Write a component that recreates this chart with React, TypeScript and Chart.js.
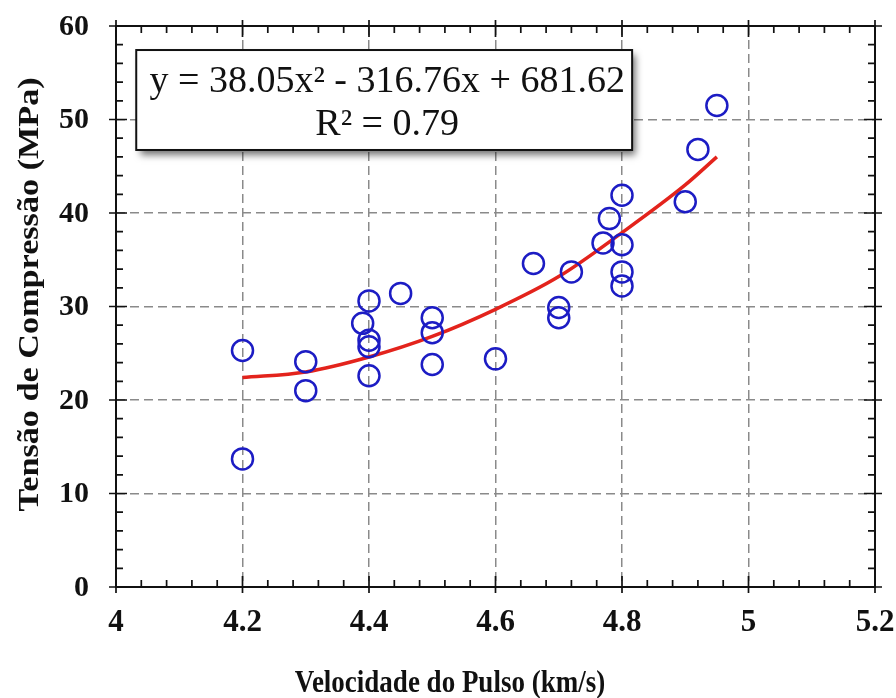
import React, { useEffect, useRef } from "react";
import { Chart, registerables } from "chart.js";

Chart.register(...registerables);

// Measured points: pulse velocity (km/s) vs compressive strength (MPa)
const velocity = [4.2, 4.2, 4.3, 4.3, 4.39, 4.4, 4.4, 4.4, 4.4, 4.45, 4.5, 4.5, 4.5, 4.6, 4.66, 4.7, 4.7, 4.72, 4.77, 4.78, 4.8, 4.8, 4.8, 4.8, 4.9, 4.92, 4.95];
const strength = [25.3, 13.7, 24.1, 21.0, 28.2, 30.6, 26.4, 25.7, 22.6, 31.4, 28.8, 27.2, 23.8, 24.4, 34.6, 29.9, 28.8, 33.7, 36.8, 39.4, 41.9, 36.6, 33.7, 32.2, 41.2, 46.8, 51.5];

// Trend curve
const trendX = [4.2, 4.3, 4.4, 4.5, 4.6, 4.7, 4.8, 4.9, 4.95];
const trendY = [22.4, 23.0, 24.6, 26.8, 29.7, 33.2, 37.9, 43.0, 46.0];

const xTicks = [4, 4.2, 4.4, 4.6, 4.8, 5, 5.2];
const yTicks = [0, 10, 20, 30, 40, 50, 60];
const xTickLabels = ["4", "4.2", "4.4", "4.6", "4.8", "5", "5.2"];
const yTickLabels = ["0", "10", "20", "30", "40", "50", "60"];

const equationLines = ["y = 38.05x\u00B2 - 316.76x + 681.62", "R\u00B2 = 0.79"];
const xTitle = "Velocidade do Pulso (km/s)";
const yTitle = "Tensão de Compressão (MPa)";

const SERIF = "'Liberation Serif', 'Times New Roman', serif";

const framePlugin = {
  id: "frameAndBox",
  afterDatasetsDraw(chart: any) {
    const { ctx, chartArea: a, scales, width } = chart;
    const xs = scales.x;
    const ys = scales.y;
    ctx.save();
    // frame
    ctx.strokeStyle = "#111";
    ctx.lineWidth = 2;
    ctx.strokeRect(a.left, a.top, a.right - a.left, a.bottom - a.top);
    // x ticks (major 0.2, minor 0.04)
    ctx.lineWidth = 1.7;
    for (let i = 0; i <= 30; i++) {
      const v = xTicks[0] + i * 0.04;
      const px = xs.getPixelForValue(v);
      const major = i % 5 === 0;
      const len = major ? 11 : 7;
      const out = major ? 6 : 0;
      ctx.beginPath();
      ctx.moveTo(px, a.bottom + out);
      ctx.lineTo(px, a.bottom - len);
      ctx.moveTo(px, a.top - out);
      ctx.lineTo(px, a.top + len);
      ctx.stroke();
    }
    for (let i = 0; i <= 30; i++) {
      const v = yTicks[0] + i * 2;
      const py = ys.getPixelForValue(v);
      const major = i % 5 === 0;
      const len = major ? 11 : 7;
      const out = major ? 7 : 0;
      ctx.beginPath();
      ctx.moveTo(a.left - out, py);
      ctx.lineTo(a.left + len, py);
      ctx.moveTo(a.right + out, py);
      ctx.lineTo(a.right - len, py);
      ctx.stroke();
    }
    // tick labels
    ctx.fillStyle = "#111";
    ctx.font = `bold 31px ${SERIF}`;
    ctx.textAlign = "center";
    ctx.textBaseline = "middle";
    xTicks.forEach((v, i) => {
      ctx.fillText(xTickLabels[i], xs.getPixelForValue(v), a.bottom + 36);
    });
    ctx.font = `bold 30px ${SERIF}`;
    ctx.textAlign = "right";
    yTicks.forEach((v, i) => {
      ctx.fillText(yTickLabels[i], a.left - 27, ys.getPixelForValue(v) + 1);
    });
    // axis titles
    ctx.save();
    ctx.font = `bold 27px ${SERIF}`;
    ctx.textAlign = "center";
    ctx.textBaseline = "alphabetic";
    ctx.translate(width / 2 + 2, 692);
    ctx.scale(1, 1.15);
    ctx.fillText(xTitle, 0, 0);
    ctx.restore();
    ctx.save();
    ctx.font = `bold 30px ${SERIF}`;
    ctx.textAlign = "center";
    ctx.textBaseline = "middle";
    ctx.translate(30, ys.getPixelForValue(31.3));
    ctx.rotate(-Math.PI / 2);
    ctx.scale(1.14, 1);
    ctx.fillText(yTitle, 0, 0);
    ctx.restore();
    // equation box
    const bx1 = xs.getPixelForValue(4.032);
    const bx2 = xs.getPixelForValue(4.816);
    const by1 = ys.getPixelForValue(57.43);
    const by2 = ys.getPixelForValue(46.74);
    ctx.save();
    ctx.shadowColor = "rgba(0,0,0,0.55)";
    ctx.shadowBlur = 7;
    ctx.shadowOffsetX = 4;
    ctx.shadowOffsetY = 5;
    ctx.fillStyle = "#fff";
    ctx.fillRect(bx1, by1, bx2 - bx1, by2 - by1);
    ctx.restore();
    ctx.strokeStyle = "#111";
    ctx.lineWidth = 2;
    ctx.strokeRect(bx1, by1, bx2 - bx1, by2 - by1);
    ctx.fillStyle = "#111";
    ctx.font = `38px ${SERIF}`;
    ctx.textAlign = "center";
    ctx.textBaseline = "alphabetic";
    const cx = (bx1 + bx2) / 2 + 3;
    ctx.fillText(equationLines[0], cx, by1 + 42);
    ctx.fillText(equationLines[1], cx, by1 + 85);
    ctx.restore();
  },
};

export default function App() {
  const ref = useRef<HTMLCanvasElement>(null);
  useEffect(() => {
    if (!ref.current) return;
    const chart = new Chart(ref.current, {
      type: "scatter",
      data: {
        datasets: [
          {
            type: "line",
            data: trendX.map((x, i) => ({ x, y: trendY[i] })),
            borderColor: "#e3231c",
            borderWidth: 3.5,
            pointRadius: 0,
            fill: false,
            cubicInterpolationMode: "monotone",
            order: 2,
          } as any,
          {
            data: velocity.map((x, i) => ({ x, y: strength[i] })),
            pointRadius: 10.5,
            pointBorderWidth: 2.5,
            pointBorderColor: "#1c1cc4",
            pointBackgroundColor: "rgba(0,0,0,0)",
            showLine: false,
            order: 1,
          },
        ],
      },
      options: {
        animation: false,
        responsive: false,
        maintainAspectRatio: false,
        layout: { padding: { left: 0, right: 21, top: 26, bottom: 0 } },
        plugins: { legend: { display: false }, tooltip: { enabled: false } },
        scales: {
          x: {
            type: "linear",
            min: 4,
            max: 5.2,
            afterBuildTicks: (s: any) => {
              s.ticks = xTicks.map((v) => ({ value: v }));
            },
            afterFit: (s: any) => {
              s.height = 111;
            },
            ticks: { display: false },
            grid: { color: "#8a8a8a", lineWidth: 1.5, drawTicks: false },
            border: { display: false, dash: [9, 5] },
            title: { display: false },
          },
          y: {
            type: "linear",
            min: 0,
            max: 60,
            afterBuildTicks: (s: any) => {
              s.ticks = yTicks.map((v) => ({ value: v }));
            },
            afterFit: (s: any) => {
              s.width = 116;
            },
            ticks: { display: false },
            grid: { color: "#8a8a8a", lineWidth: 1.5, drawTicks: false },
            border: { display: false, dash: [9, 5] },
            title: { display: false },
          },
        },
      } as any,
      plugins: [framePlugin],
    });
    return () => chart.destroy();
  }, []);
  return (
    <div style={{ position: "fixed", left: 0, top: 0, width: 896, height: 698, background: "#fff" }}>
      <canvas ref={ref} width={896} height={698} style={{ width: 896, height: 698 }} />
    </div>
  );
}
